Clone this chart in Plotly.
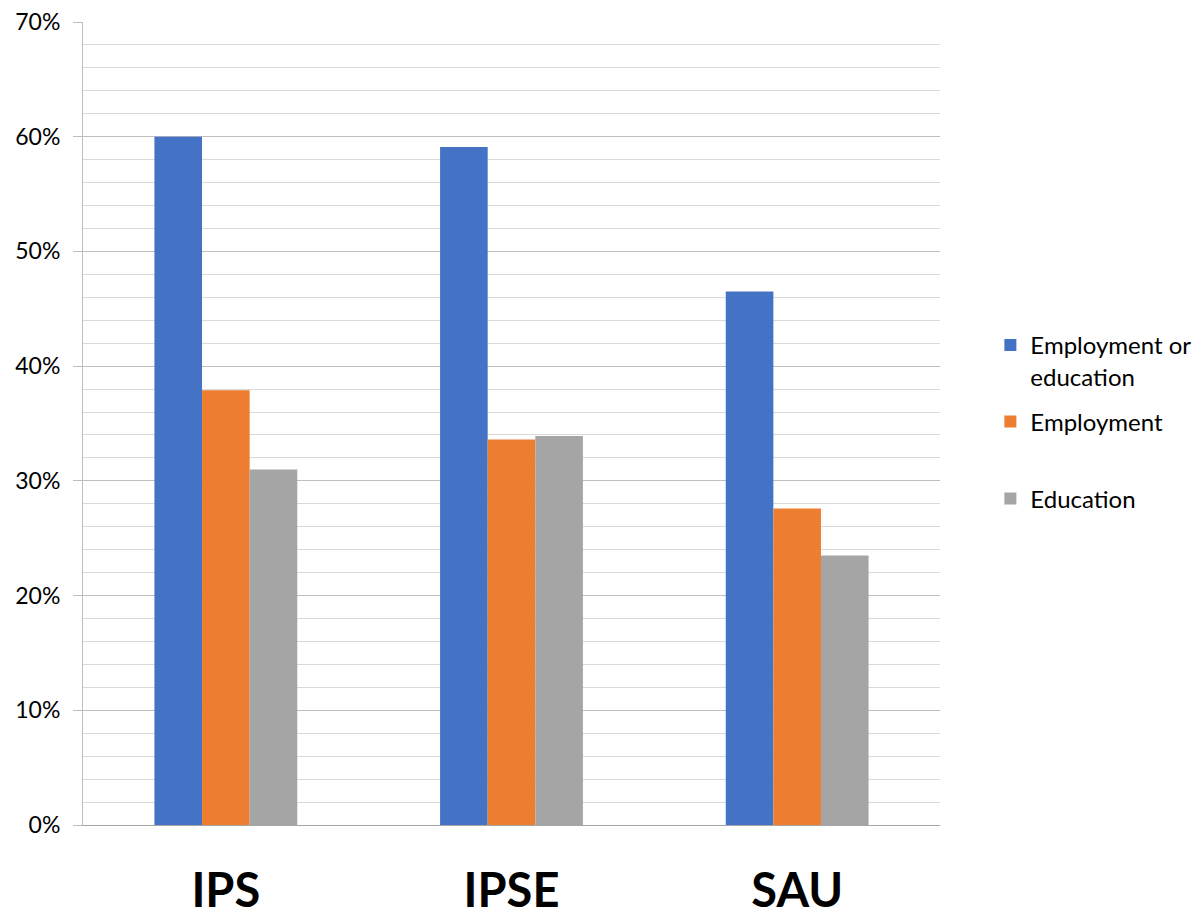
import plotly.graph_objects as go

# Outcome rates by programme
categories = ["IPS", "IPSE", "SAU"]
emp_or_edu = [0.600, 0.591, 0.465]
employment = [0.379, 0.336, 0.276]
education = [0.310, 0.339, 0.235]

series = [
    ("Employment or<br>education", emp_or_edu, "#4472C4", "legend"),
    ("Employment", employment, "#ED7D31", "legend2"),
    ("Education", education, "#A5A5A5", "legend3"),
]

FONT = "Lato, 'Open Sans', sans-serif"

fig = go.Figure()
for name, vals, color, lg in series:
    fig.add_trace(go.Bar(
        x=categories, y=vals, name=name,
        marker=dict(color=color, line=dict(width=0)),
        legend=lg, showlegend=True,
    ))

legend_common = dict(
    font=dict(family=FONT, size=24, color="#000000"),
    bgcolor="rgba(0,0,0,0)", borderwidth=0,
    xref="container", yref="container",
    xanchor="left", yanchor="middle", valign="top",
    x=0.826,
)

fig.update_layout(
    width=1199, height=923,
    margin=dict(l=83, r=259, t=22, b=98, autoexpand=False),
    paper_bgcolor="white", plot_bgcolor="white",
    showlegend=True,
    barmode="group", bargap=0.5, bargroupgap=0,
    font=dict(family=FONT, color="#000000"),
    legend=dict(**legend_common, y=1 - 361 / 923),
    legend2=dict(**legend_common, y=1 - 422 / 923),
    legend3=dict(**legend_common, y=1 - 499 / 923),
    xaxis=dict(
        automargin=False,
        showgrid=False, showline=True, linecolor="#A6A6A6", linewidth=1,
        ticks="", tickfont=dict(family=FONT, size=47, color="#000000", weight="bold"),
        ticklabelstandoff=25,
    ),
    yaxis=dict(
        automargin=False,
        range=[0, 0.70], dtick=0.10, tickformat=".0%",
        showgrid=True, gridcolor="#BFBFBF", gridwidth=1,
        minor=dict(dtick=0.02, showgrid=True, gridcolor="#D9D9D9", gridwidth=1, ticks=""),
        showline=True, linecolor="#BFBFBF", linewidth=1,
        ticks="outside", ticklen=9, tickcolor="#BFBFBF",
        tickfont=dict(family=FONT, size=23, color="#000000"),
        ticklabelstandoff=8,
        zeroline=False,
    ),
)

fig.write_html("out.html")
